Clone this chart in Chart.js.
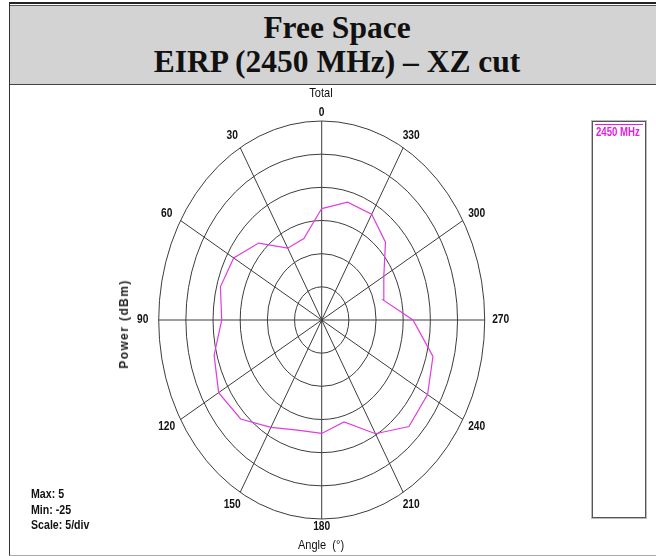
<!DOCTYPE html>
<html>
<head>
<meta charset="utf-8">
<script src="https://cdn.jsdelivr.net/npm/chart.js@4.4.1/dist/chart.umd.min.js"></script>
<style>
html,body{margin:0;padding:0;background:#fff;}
#wrap{position:relative;width:656px;height:556px;overflow:hidden;font-family:"Liberation Sans",Arial,sans-serif;}
#frame{position:absolute;left:9px;top:2px;width:700px;height:551px;border-left:1px solid #333;border-top:2px solid #222;border-bottom:1px solid #aaa;}
#band{position:absolute;left:10px;top:5px;width:660px;height:78px;background:#d3d3d3;border-bottom:1px solid #444;border-top:1px solid #555;}
#title{position:absolute;left:10px;top:11px;width:654px;text-align:center;font-family:"Liberation Serif","Times New Roman",serif;font-weight:bold;font-size:31.5px;line-height:34px;color:#111;}
.lbl{position:absolute;font-family:"Liberation Sans",Arial,sans-serif;color:#111;white-space:nowrap;}
#total{left:271px;width:100px;top:85px;text-align:center;font-size:13px;transform:scaleX(0.85);}
#angle{left:271px;width:100px;top:537px;text-align:center;font-size:13px;transform:scaleX(0.85);}
#power{left:124px;top:324px;font-size:12px;font-weight:bold;letter-spacing:1.4px;color:#222;transform:translate(-50%,-50%) rotate(-90deg);}
#stats{left:31px;top:487px;font-size:12.5px;font-weight:bold;line-height:15.5px;transform:scaleX(0.85);transform-origin:0 0;}
#legend{position:absolute;left:592px;top:121px;width:52px;height:395px;border:1px solid #555;box-shadow:0 0 0 1px #bbb;background:#fff;}
#legline{position:absolute;left:2px;right:2px;top:2px;height:1px;background:#e020e0;}
#legtxt{position:absolute;left:3px;top:3px;font-size:12px;font-weight:bold;color:#e020e0;white-space:nowrap;transform:scaleX(0.8);transform-origin:0 0;}
canvas{position:absolute;left:0;top:0;}
</style>
</head>
<body>
<div id="wrap">
  <div id="frame"></div>
  <div id="band"></div>
  <div id="title">Free Space<br>EIRP (2450 MHz) – XZ cut</div>
  <canvas id="c" width="656" height="556"></canvas>
  <div class="lbl" id="total">Total</div>
  <div class="lbl" id="angle">Angle&nbsp; (°)</div>
  <div class="lbl" id="power">Power (dBm)</div>
  <div class="lbl" id="stats">Max: 5<br>Min: -25<br>Scale: 5/div</div>
  <div id="legend"><div id="legline"></div><div id="legtxt">2450 MHz</div></div>
</div>
<script>
// ---- data ----
const angles = [0,15,30,45,60,75,90,105,120,135,150,165,180,195,210,225,240,255,270,285,300,315,330,345];
const power2450 = [-8.2,-12.3,-12.5,-8.6,-6.3,-5.7,-6.6,-4.5,-3.1,-3.9,-6.3,-7.8,-7.9,-9.1,-5.2,-2.3,-2.5,-3.8,-8.2,-13.3,-11.8,-8.4,-6.6,-6.6];
const seriesName = '2450 MHz';
const minDb = -25;
const maxDb = 5;
const stepDb = 5;
const ringValues = [-20,-15,-10,-5,0,5];
const spokeAngles = [0,30,60,90,120,150,180,210,240,270,300,330];
const angleLabels = ['0','30','60','90','120','150','180','210','240','270','300','330'];

// polar (angle CCW from top, dBm) -> cartesian in radius units of the scales
function toXY(a, v){
  const r = v - minDb, t = a*Math.PI/180;
  return {x: -r*Math.sin(t), y: r*Math.cos(t)};
}
const pts = angles.map((a,i)=>toXY(a, power2450[i]));
pts.push(toXY(angles[0], power2450[0]));
const span = maxDb - minDb;

const polarGrid = {
  id:'polarGrid',
  beforeDatasetsDraw(chart){
    const {ctx, scales:{x, y}} = chart;
    const cx = x.getPixelForValue(0), cy = y.getPixelForValue(0);
    ctx.save();
    ctx.strokeStyle = '#3c3c3c';
    ctx.lineWidth = 1;
    ringValues.forEach(v=>{
      const r = v - minDb;
      const rx = x.getPixelForValue(r) - cx;
      const ry = cy - y.getPixelForValue(r);
      ctx.beginPath();
      ctx.ellipse(cx, cy, rx, ry, 0, 0, Math.PI*2);
      ctx.stroke();
    });
    spokeAngles.forEach(a=>{
      const p = toXY(a, maxDb);
      ctx.beginPath();
      ctx.moveTo(cx, cy);
      ctx.lineTo(x.getPixelForValue(p.x), y.getPixelForValue(p.y));
      ctx.stroke();
    });
    // angle labels
    const Rx = x.getPixelForValue(span) - cx;
    const Ry = cy - y.getPixelForValue(span);
    ctx.fillStyle = '#111';
    ctx.font = 'bold 12.5px "Liberation Sans",Arial,sans-serif';
    ctx.textAlign = 'center';
    ctx.textBaseline = 'middle';
    spokeAngles.forEach((a,i)=>{
      const t = a*Math.PI/180;
      const s = -Math.sin(t), c = Math.cos(t);
      const offY = (a===0||a===180) ? 8 : 14;
      const px = cx + s*(Rx+16);
      const py = cy - c*(Ry+offY);
      ctx.save();
      ctx.translate(px, py);
      ctx.scale(0.82, 1);
      ctx.fillText(angleLabels[i], 0, 0);
      ctx.restore();
    });
    ctx.restore();
  }
};

new Chart(document.getElementById('c'), {
  type:'scatter',
  data:{datasets:[{
    label: seriesName,
    data: pts,
    showLine: true,
    borderColor:'#e03ce0',
    backgroundColor:'#e03ce0',
    borderWidth:1.2,
    pointRadius:0,
    tension:0
  }]},
  options:{
    responsive:false,
    animation:false,
    devicePixelRatio:1,
    layout:{padding:{left:158.7, right:171.3, top:121, bottom:37}},
    scales:{
      x:{type:'linear', min:-span, max:span, display:false},
      y:{type:'linear', min:-span, max:span, display:false}
    },
    plugins:{legend:{display:false}, tooltip:{enabled:false}}
  },
  plugins:[polarGrid]
});
</script>
</body>
</html>
